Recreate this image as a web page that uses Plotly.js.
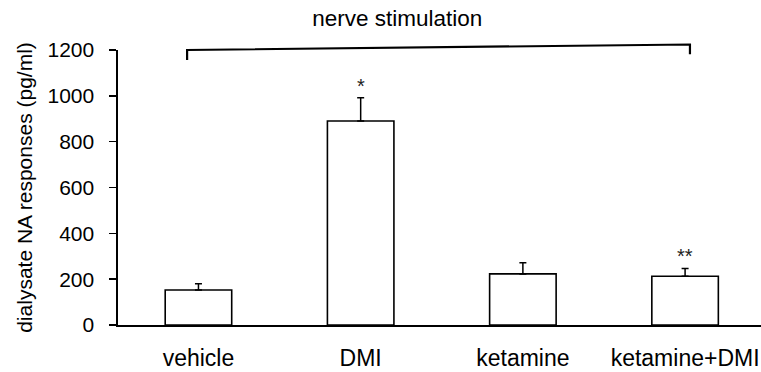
<!DOCTYPE html>
<html>
<head>
<meta charset="utf-8">
<script src="https://cdn.plot.ly/plotly-3.0.1.min.js"></script>
<style>html,body{margin:0;padding:0;background:#fff;}#chart{width:761px;height:372px;}</style>
</head>
<body>
<div id="chart"></div>
<script>
// ---- data ----
var categories = ["vehicle", "DMI", "ketamine", "ketamine+DMI"];
var naResponse = [153, 890, 223, 213];      // pg/ml
var semUpper   = [27, 102, 49, 34];          // error bars (upper)
var significance = ["", "*", "", "**"];
var yTickVals = [0, 200, 400, 600, 800, 1000, 1200];
var bracketLabel = "nerve stimulation";
var bracketSpan = [-0.07, 3.03];             // in category units

var FONT = "Arial, 'Liberation Sans', sans-serif";

var trace = {
  type: "bar",
  x: categories,
  y: naResponse,
  width: 0.41,
  marker: {color: "#ffffff", line: {color: "#000000", width: 1.6}},
  error_y: {
    type: "data", symmetric: false,
    array: semUpper,
    arrayminus: naResponse.map(function(){return 0;}),
    color: "#000000", thickness: 1.5, width: 3.5
  },
  hoverinfo: "none"
};

var annotations = [];
categories.forEach(function(c, i){
  if (significance[i]) {
    annotations.push({
      x: c, y: naResponse[i] + semUpper[i], xref: "x", yref: "y",
      text: significance[i], showarrow: false, yanchor: "middle", yshift: 12,
      font: {family: FONT, size: 20, color: "#222"}
    });
  }
});

var shapes = [
  {type: "path", xref: "x", yref: "paper",
   path: "M " + bracketSpan[0] + ",0.964 L " + bracketSpan[0] + ",1.0 L " + bracketSpan[1] + ",1.02 L " + bracketSpan[1] + ",0.985",
   line: {color: "#000", width: 2.2}}
];

var layout = {
  width: 761, height: 372,
  margin: {l: 118, r: 0, t: 50, b: 47},
  paper_bgcolor: "#fff", plot_bgcolor: "#fff",
  font: {family: FONT, size: 21, color: "#000"},
  showlegend: false,
  title: {text: bracketLabel, xref: "container", yref: "container",
          x: 0.522, xanchor: "center", y: 0.952, yanchor: "middle",
          font: {family: FONT, size: 22.5, color: "#000"}},
  xaxis: {
    type: "category", range: [-0.496, 3.468],
    showline: true, linecolor: "#000", linewidth: 2,
    ticks: "", showgrid: false, zeroline: false,
    tickfont: {family: FONT, size: 23, color: "#000"},
    ticklabelstandoff: 11
  },
  yaxis: {
    range: [0, 1200], tickvals: yTickVals,
    showline: true, linecolor: "#000", linewidth: 1.6,
    ticks: "outside", ticklen: 7, tickwidth: 1.4, tickcolor: "#000",
    showgrid: false, zeroline: false,
    tickfont: {family: FONT, size: 21, color: "#000"},
    ticklabelstandoff: 11,
    title: {text: "dialysate NA responses (pg/ml)", font: {family: FONT, size: 21, color: "#000"}, standoff: 9}
  },
  shapes: shapes,
  annotations: annotations,
  bargap: 0.59
};

Plotly.newPlot("chart", [trace], layout, {displayModeBar: false, staticPlot: true});
</script>
</body>
</html>
